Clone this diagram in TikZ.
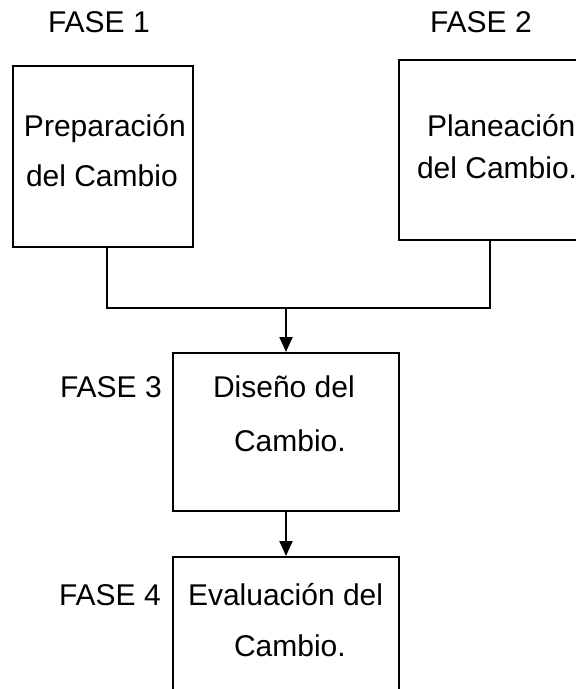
\documentclass[tikz,border=0pt]{standalone}
\usepackage{fontspec}
\setmainfont{Liberation Sans}
\usetikzlibrary{arrows.meta}

\begin{document}
\begin{tikzpicture}[x=0.5pt, y=-0.5pt, line width=1pt, >={Triangle[length=7.5pt,width=6.5pt]}]
	\tikzstyle{fase}=[draw, rectangle, inner sep=0pt]
	\tikzstyle{texto}=[anchor=base west, inner sep=0pt, font=\fontsize{15}{18}\selectfont]

	\useasboundingbox (0,0) rectangle (576,689);
	\clip (0,0) rectangle (576,689);

	% CAJAS
	\node[fase, minimum width=90pt, minimum height=90.5pt] (F1) at (103,156.5) {};
	\node[fase, minimum width=91pt, minimum height=90pt] (F2) at (490,150) {};
	\node[fase, minimum width=113pt, minimum height=79pt] (F3) at (286,432) {};
	\node[fase, minimum width=113pt, minimum height=81.5pt] (F4) at (286,638.5) {};

	% TEXTOS
	\node[texto] (N1) at (47,33) {FASE 1};
	\node[texto] (N2) at (429,33) {FASE 2};
	\node[texto] (N3) at (59,397) {FASE 3};
	\node[texto] (N4) at (58,605) {FASE 4};

	\node[texto] (T1a) at (23,137) {Preparación};
	\node[texto] (T1b) at (25,187) {del Cambio};
	\node[texto] (T2a) at (426,137) {Planeación};
	\node[texto] (T2b) at (416,179) {del Cambio.};
	\node[texto] (T3a) at (212,397) {Diseño del};
	\node[texto] (T3b) at (233,451) {Cambio.};
	\node[texto] (T4a) at (187,605) {Evaluación del};
	\node[texto] (T4b) at (233,656) {Cambio.};

	% FLECHAS
	\coordinate (J) at (286,308);
	\draw ([xshift=2pt]F1.south) |- (J) -| (F2.south);
	\draw[->] (J) -- (F3.north);
	\draw[->] (F3) -- (F4);
\end{tikzpicture}
\end{document}
